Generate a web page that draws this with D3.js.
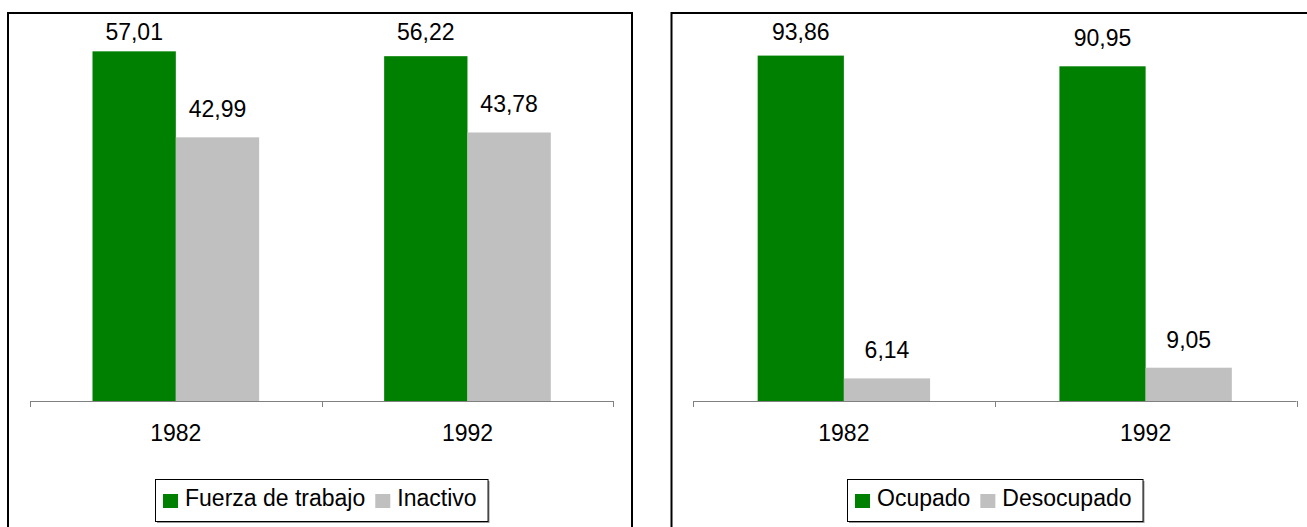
<!DOCTYPE html>
<html>
<head>
<meta charset="utf-8">
<script src="https://cdn.jsdelivr.net/npm/d3@7"></script>
<style>
  body { margin: 0; background: #fff; overflow: hidden; }
  svg { display: block; font-family: "Liberation Sans", Arial, sans-serif; }
</style>
</head>
<body>
<svg id="chart" width="1307" height="527"></svg>
<script>
// data
var years = ["1982", "1992"];
var fuerzaTrabajo = [57.01, 56.22];
var inactivo = [42.99, 43.78];
var ocupado = [93.86, 90.95];
var desocupado = [6.14, 9.05];
var seriesLeft = ["Fuerza de trabajo", "Inactivo"];
var seriesRight = ["Ocupado", "Desocupado"];
var colors = ["#008000", "#c0c0c0"];

var svg = d3.select("#chart");
var fontSize = 23;

function fmt(v) { return d3.format(".2f")(v).replace(".", ","); }

function drawPanel(opt) {
  var g = svg.append("g");

  // outer frame
  g.append("rect")
    .attr("x", opt.frame[0]).attr("y", 13)
    .attr("width", opt.frame[1] - opt.frame[0]).attr("height", 600)
    .attr("fill", "none").attr("stroke", "#000").attr("stroke-width", 2);

  var x0 = d3.scaleBand().domain(years).range(opt.xr).padding(0);
  var x1 = d3.scaleBand().domain(opt.series).range([0, x0.bandwidth()])
    .paddingInner(0).paddingOuter(0.75);
  var y = d3.scaleLinear().domain([0, opt.ymax]).range([401, 33]);

  var rows = years.map(function(yr, i) {
    return { year: yr, vals: [opt.a[i], opt.b[i]] };
  });

  var grp = g.selectAll(".cat").data(rows).enter().append("g")
    .attr("transform", function(d) { return "translate(" + x0(d.year) + ",0)"; });

  grp.selectAll("rect").data(function(d) {
      return d.vals.map(function(v, k) { return { key: opt.series[k], k: k, v: v }; });
    }).enter().append("rect")
    .attr("x", function(d) { return x1(d.key); })
    .attr("y", function(d) { return y(d.v); })
    .attr("width", x1.bandwidth())
    .attr("height", function(d) { return y(0) - y(d.v); })
    .attr("fill", function(d) { return colors[d.k]; });

  // value labels, kept inside the chart area when the bar is tall
  grp.selectAll("text.val").data(function(d) {
      return d.vals.map(function(v, k) { return { key: opt.series[k], v: v }; });
    }).enter().append("text")
    .attr("class", "val")
    .attr("x", function(d) { return x1(d.key) + x1.bandwidth() / 2; })
    .attr("y", function(d) { return Math.max(y(d.v) - 20, 40); })
    .attr("text-anchor", "middle")
    .attr("font-size", fontSize)
    .attr("fill", "#000")
    .text(function(d) { return fmt(d.v); });

  // category axis, ticks between categories
  var ax = g.append("g").attr("stroke", "#808080").attr("stroke-width", 1);
  ax.append("line")
    .attr("x1", opt.xr[0]).attr("x2", opt.xr[1])
    .attr("y1", y(0) + 0.5).attr("y2", y(0) + 0.5);
  var bounds = years.map(function(d) { return x0(d); }).concat([opt.xr[1]]);
  ax.selectAll("line.tick").data(bounds).enter().append("line")
    .attr("class", "tick")
    .attr("x1", function(d) { return Math.round(d) + 0.5; })
    .attr("x2", function(d) { return Math.round(d) + 0.5; })
    .attr("y1", y(0)).attr("y2", y(0) + 6);

  g.selectAll("text.cat").data(years).enter().append("text")
    .attr("class", "cat")
    .attr("x", function(d) { return x0(d) + x0.bandwidth() / 2; })
    .attr("y", 441)
    .attr("text-anchor", "middle")
    .attr("font-size", fontSize)
    .attr("fill", "#000")
    .text(function(d) { return d; });

  // legend
  var lg = g.append("g");
  var box = lg.append("rect");
  var shadow = lg.insert("rect", ":first-child");
  var cx = 8;
  opt.series.forEach(function(s, k) {
    lg.append("rect")
      .attr("x", cx).attr("y", 15).attr("width", 15).attr("height", 14)
      .attr("fill", colors[k]);
    var t = lg.append("text")
      .attr("x", cx + 22).attr("y", 27)
      .attr("font-size", fontSize).attr("fill", "#000")
      .text(s);
    cx += 22 + t.node().getComputedTextLength() + 10;
  });
  var lw = cx + 1;
  box.attr("x", 0.5).attr("y", 0.5).attr("width", lw).attr("height", 42)
    .attr("fill", "#fff").attr("stroke", "#000").attr("stroke-width", 1);
  shadow.attr("x", 2).attr("y", 2).attr("width", lw).attr("height", 42)
    .attr("fill", "#999");
  var mid = (opt.xr[0] + opt.xr[1]) / 2;
  lg.attr("transform", "translate(" + Math.round(mid - lw / 2) + ",479)");
}

drawPanel({ frame: [8, 632], xr: [30, 613.3], ymax: 60,
  a: fuerzaTrabajo, b: inactivo, series: seriesLeft });
drawPanel({ frame: [671.5, 1340], xr: [693, 1296.5], ymax: 100,
  a: ocupado, b: desocupado, series: seriesRight });
</script>
</body>
</html>
